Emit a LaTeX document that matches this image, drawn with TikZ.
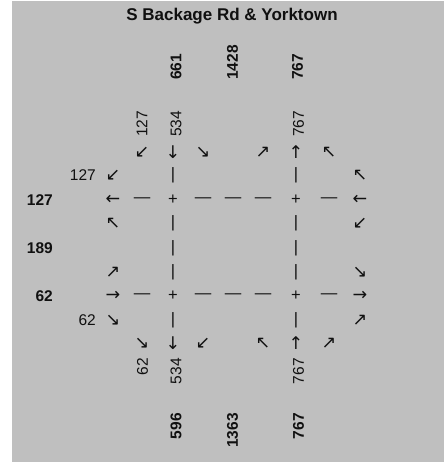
\documentclass[tikz,border=0pt]{standalone}
\usepackage{fontspec}
\setmainfont{Liberation Sans}
\newfontfamily\arrowfont{DejaVu Sans}
\usepackage{xcolor}
\usetikzlibrary{positioning}
\definecolor{panelc}{HTML}{BFBFBF}
\definecolor{inkc}{HTML}{101010}
\tikzset{
  cnt/.style={inner sep=0pt,text=inkc,font=\fontsize{15.5}{18}\selectfont},
  tot/.style={inner sep=0pt,text=inkc,font=\fontsize{15.5}{18}\selectfont\bfseries},
  arw/.style={inner sep=0pt,text=inkc,font=\arrowfont\fontsize{17.5}{20}\selectfont},
  mk/.style={inner sep=0pt,text=inkc,font=\fontsize{16.5}{19}\selectfont}
}

\begin{document}
\begin{tikzpicture}[x=1pt,y=-1pt]
\useasboundingbox (0,0) rectangle (444,462);
\fill[panelc] (12,1) rectangle (444,462);
\node[tot,font=\fontsize{17}{20}\selectfont\bfseries] (title) at (232,16.5) {S Backage Rd \& Yorktown};
\node[tot,rotate=90,anchor=west] (ntotin) at (176,80) {661};
\node[tot,rotate=90,anchor=west] (ntot) at (232.5,80) {1428};
\node[tot,rotate=90,anchor=west] (ntotout) at (297.5,80) {767};
\node[cnt,rotate=90,anchor=west] (nr) at (142,137) {127};
\node[cnt,rotate=90,anchor=west] (nt) at (176,137) {534};
\node[cnt,rotate=90,anchor=west] (nout) at (298.5,137) {767};
\node[cnt,rotate=90,anchor=east] (sl) at (142.5,358) {62};
\node[cnt,rotate=90,anchor=east] (st) at (176,358) {534};
\node[cnt,rotate=90,anchor=east] (sout) at (298.5,358) {767};
\node[tot,rotate=90,anchor=east] (stotout) at (176,413) {596};
\node[tot,rotate=90,anchor=east] (stot) at (232.5,413) {1363};
\node[tot,rotate=90,anchor=east] (stotin) at (298.5,413) {767};
\node[tot,anchor=east] (wtotout) at (53,200) {127};
\node[tot,anchor=east] (wtot) at (53,248) {189};
\node[tot,anchor=east] (wtotin) at (53,296) {62};
\node[cnt,anchor=east] (wr) at (96,175) {127};
\node[cnt,anchor=east] (wl) at (96,320) {62};
\foreach \x/\a [count=\i] in {142/↙,173/↓,203/↘,263/↗,296/↑,329/↖}
  \node[arw] (ta\i) at (\x,152) {\a};
\foreach \x/\a [count=\i] in {142/↘,173/↓,203/↙,263/↖,296/↑,329/↗}
  \node[arw] (ba\i) at (\x,343) {\a};
\foreach \y/\a/\b [count=\i] in {175/↙/↖,200/←/←,223/↖/↙,272/↗/↘,296/→/→,320/↘/↗} {
  \node[arw] (wa\i) at (113,\y) {\a};
  \node[arw] (ea\i) at (360,\y) {\b};
}
\foreach \y in {175,223,248,272,320} {
  \node[mk] (lb\y) at (173,\y) {|};
  \node[mk] (rb\y) at (296,\y) {|};
}
\foreach \y in {200,296} {
  \foreach \x in {142,203,233,263,329}
    \node[mk] (d\x-\y) at (\x,\y) {—};
  \node[mk] (lp\y) at (173,\y) {+};
  \node[mk] (rp\y) at (296,\y) {+};
}
\end{tikzpicture}
\end{document}
